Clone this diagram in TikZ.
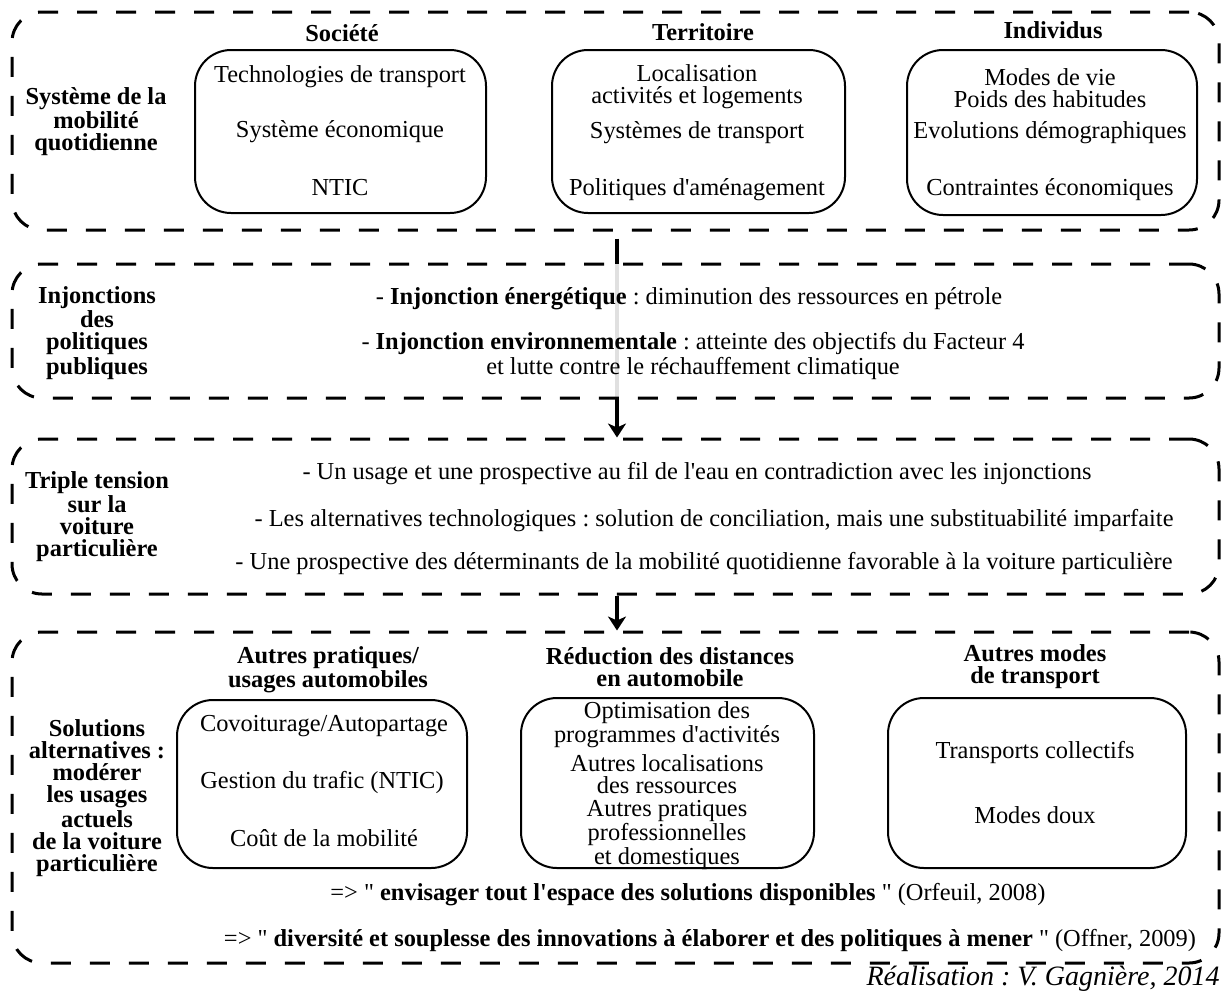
\documentclass[tikz,border=0pt]{standalone}
\usepackage{fontspec}
\setmainfont{Liberation Serif}[Ligatures=TeXOff]
\usetikzlibrary{fit,arrows.meta}
\frenchspacing
\begin{document}
\begin{tikzpicture}[x=0.5pt,y=-0.5pt,
  font=\fontsize{12.2}{11}\selectfont,
  outerbox/.style={draw, line width=1.5pt, dash pattern=on 10pt off 9.5pt, rounded corners=15pt, inner sep=0pt},
  innerbox/.style={draw, line width=1pt, rounded corners=18pt, inner sep=0pt},
  lbl/.style={font=\fontsize{12.2}{11}\selectfont\bfseries, align=center, inner sep=0pt},
  ttl/.style={font=\fontsize{12.2}{11}\selectfont\bfseries, align=center, inner sep=0pt},
  txt/.style={align=center, inner sep=0pt},
  arr/.style={line width=1.6pt, -{Stealth[length=7pt,width=9pt,inset=2pt]}}]
\fill[white] (0,0) rectangle (1225,997);
\useasboundingbox (0,0) rectangle (1225,997);

% Box 1
\node[outerbox, fit={(12,12)(1219,230)}] (b1) {};
\node[innerbox, fit={(195,50)(486,213)}] (s1) {};
\node[innerbox, fit={(552,50)(845,213)}] (s2) {};
\node[innerbox, fit={(907,50)(1197,215)}] (s3) {};
\node[lbl] (l1) at (96,122) {Système de la\\mobilité\\quotidienne};
\node[ttl] (t1) at (342,33) {Société};
\node[ttl] (t2) at (703,32) {Territoire};
\node[ttl] (t3) at (1053,30) {Individus};
\node[txt] (s1a) at (340,77) {Technologies de transport};
\node[txt] (s1b) at (340,132) {Système économique};
\node[txt] (s1c) at (340,188) {NTIC};
\node[txt] (s2a) at (697,87) {Localisation\\activités et logements};
\node[txt] (s2b) at (697,133) {Systèmes de transport};
\node[txt] (s2c) at (697,190) {Politiques d'aménagement};
\node[txt] (s3a) at (1050,88) {Modes de vie\\Poids des habitudes};
\node[txt] (s3b) at (1050,133) {Evolutions démographiques};
\node[txt] (s3c) at (1050,190) {Contraintes économiques};

% Box 3 frame (needed for arrow target)
\node[outerbox, fit={(12,439)(1219,594)}] (b3) {};

% Arrow 1 (behind box 2)
\draw[arr] ([xshift=0.75pt,yshift=-3.5pt]b1.south) -- ([xshift=0.75pt]b3.north);

% Box 2
\node[outerbox, fill=white, fill opacity=0.88, fit={(12,264)(1219,398)}] (b2) {};
\node[lbl] (l2) at (97,333) {Injonctions\\des\\politiques\\publiques};
\node[txt] (i1) at (689,299) {- \textbf{Injonction énergétique} : diminution des ressources en pétrole};
\node[txt] (i2) at (693,356) {- \textbf{Injonction environnementale} : atteinte des objectifs du Facteur 4\\et lutte contre le réchauffement climatique};

% Box 3 content
\node[lbl] (l3) at (97,517) {Triple tension\\sur la\\voiture\\particulière};
\node[txt] (u1) at (697,474) {- Un usage et une prospective au fil de l'eau en contradiction avec les injonctions};
\node[txt] (u2) at (714,521) {- Les alternatives technologiques : solution de conciliation, mais une substituabilité imparfaite};
\node[txt] (u3) at (704,563) {- Une prospective des déterminants de la mobilité quotidienne favorable à la voiture particulière};

% Box 4
\node[outerbox, fit={(12,632)(1219,963)}] (b4) {};
\draw[arr] ([xshift=0.75pt]b3.south) -- ([xshift=0.75pt]b4.north);
\node[innerbox, fit={(177,700)(467,868)}] (a1) {};
\node[innerbox, fit={(521,698)(814,868)}] (a2) {};
\node[innerbox, fit={(888,698)(1186,868)}] (a3) {};
\node[lbl] (l4) at (97,798) {Solutions\\alternatives :\\modérer\\les usages\\actuels\\de la voiture\\particulière};
\node[ttl] (h1) at (328,670) {Autres pratiques/\\usages automobiles};
\node[ttl] (h2) at (670,667) {Réduction des distances\\en automobile};
\node[ttl] (h3) at (1035,667) {Autres modes\\de transport};
\node[txt] (a1a) at (324,726) {Covoiturage/Autopartage};
\node[txt] (a1b) at (322,782) {Gestion du trafic (NTIC)};
\node[txt] (a1c) at (324,838) {Coût de la mobilité};
\node[txt] (a2a) at (667,725) {Optimisation des\\programmes d'activités};
\node[txt] (a2b) at (667,774) {Autres localisations\\des ressources};
\node[txt] (a2c) at (667,835) {Autres pratiques\\professionnelles\\et domestiques};
\node[txt] (a3a) at (1035,752) {Transports collectifs};
\node[txt] (a3b) at (1035,815) {Modes doux};
\node[txt] (q1) at (688,895) {=> " \textbf{envisager tout l'espace des solutions disponibles} " (Orfeuil, 2008)};
\node[txt] (q2) at (710,940) {=> " \textbf{diversité et souplesse des innovations à élaborer et des politiques à mener} " (Offner, 2009)};

% Credit
\node[txt, anchor=east, font=\fontsize{14}{14}\selectfont\itshape] (cr) at (1220,979) {Réalisation : V. Gagnière, 2014};
\end{tikzpicture}
\end{document}
